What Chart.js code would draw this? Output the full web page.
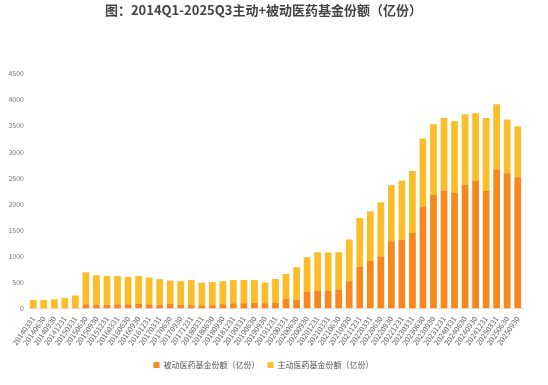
<!DOCTYPE html>
<html>
<head>
<meta charset="utf-8">
<script src="https://cdn.jsdelivr.net/npm/chart.js@4/dist/chart.umd.min.js"></script>
<style>
  html, body { margin: 0; padding: 0; background: #fff; }
  #wrap { width: 548px; height: 385px; }
</style>
</head>
<body>
<div id="wrap"><canvas id="c" width="548" height="385"></canvas></div>
<script>
'use strict';

// 季度末日期
var quarters = [
  '20140331', '20140630', '20140930', '20141231',
  '20150331', '20150630', '20150930', '20151231',
  '20160331', '20160630', '20160930', '20161231',
  '20170331', '20170630', '20170930', '20171231',
  '20180331', '20180630', '20180930', '20181231',
  '20190331', '20190630', '20190930', '20191231',
  '20200331', '20200630', '20200930', '20201231',
  '20210331', '20210630', '20210930', '20211231',
  '20220331', '20220630', '20220930', '20221231',
  '20230331', '20230630', '20230930', '20231231',
  '20240331', '20240630', '20240930', '20241231',
  '20250331', '20250630', '20250930'
];

// 被动医药基金份额（亿份）
var passiveShares = [
  10, 10, 12, 15, 20, 82, 69, 75, 82, 82, 88, 82,
  75, 88, 75, 75, 63, 63, 82, 101, 101, 107, 101, 107,
  185, 165, 319, 344, 344, 364, 523, 797, 909, 995, 1289, 1321,
  1448, 1953, 2176, 2260, 2214, 2367, 2444, 2252, 2668, 2591, 2514
];

// 主动医药基金份额（亿份）
var activeShares = [
  155, 155, 166, 188, 229, 613, 569, 549, 542, 523, 536, 512,
  486, 448, 448, 473, 432, 444, 441, 448, 448, 442, 397, 461,
  478, 626, 663, 734, 728, 714, 798, 938, 957, 1043, 1072, 1130,
  1187, 1302, 1353, 1390, 1373, 1354, 1296, 1398, 1244, 1028, 971
];

var yTicks = [0, 500, 1000, 1500, 2000, 2500, 3000, 3500, 4000, 4500];

var FONT = '"Noto Sans CJK SC", "Noto Sans", sans-serif';

var ctx = document.getElementById('c').getContext('2d');
new Chart(ctx, {
  type: 'bar',
  data: {
    labels: quarters,
    datasets: [{
      label: '被动医药基金份额（亿份）',
      data: passiveShares,
      backgroundColor: '#F7871F',
      borderWidth: 0,
      categoryPercentage: 0.8,
      barPercentage: 0.8
    }, {
      label: '主动医药基金份额（亿份）',
      data: activeShares,
      backgroundColor: '#FCBD2A',
      borderWidth: 0,
      categoryPercentage: 0.8,
      barPercentage: 0.8
    }]
  },
  options: {
    responsive: false,
    animation: false,
    devicePixelRatio: 1,
    layout: { padding: { left: 4, right: 25, top: 2, bottom: 6 } },
    plugins: {
      title: {
        display: true,
        text: '图：2014Q1-2025Q3主动+被动医药基金份额（亿份）',
        color: '#444',
        font: { family: FONT, size: 13, weight: 'bold' },
        padding: { top: 0, bottom: 56 }
      },
      legend: {
        position: 'bottom',
        labels: {
          color: '#555',
          font: { family: FONT, size: 8 },
          boxWidth: 6,
          boxHeight: 6,
          padding: 8
        }
      },
      tooltip: { enabled: false }
    },
    scales: {
      x: {
        stacked: true,
        grid: { display: false, drawTicks: false },
        border: { display: true, color: '#e6e6e6' },
        afterFit: function (scale) {
          // 不为倾斜标签额外留边
          scale.paddingLeft = 0;
          scale.paddingRight = 0;
        },
        ticks: {
          color: '#666',
          font: { family: FONT, size: 7.5 },
          autoSkip: false,
          minRotation: 55,
          maxRotation: 55,
          padding: 6
        }
      },
      y: {
        stacked: true,
        min: 0,
        max: 4500,
        afterBuildTicks: function (axis) {
          axis.ticks = yTicks.map(function (v) { return { value: v }; });
        },
        afterFit: function (scale) {
          scale.width = 24;
        },
        grid: { display: false, drawTicks: false },
        border: { display: false },
        ticks: {
          color: '#777',
          font: { family: FONT, size: 7 },
          padding: 4,
          callback: function (v) { return String(v); }
        }
      }
    }
  }
});
</script>
</body>
</html>
